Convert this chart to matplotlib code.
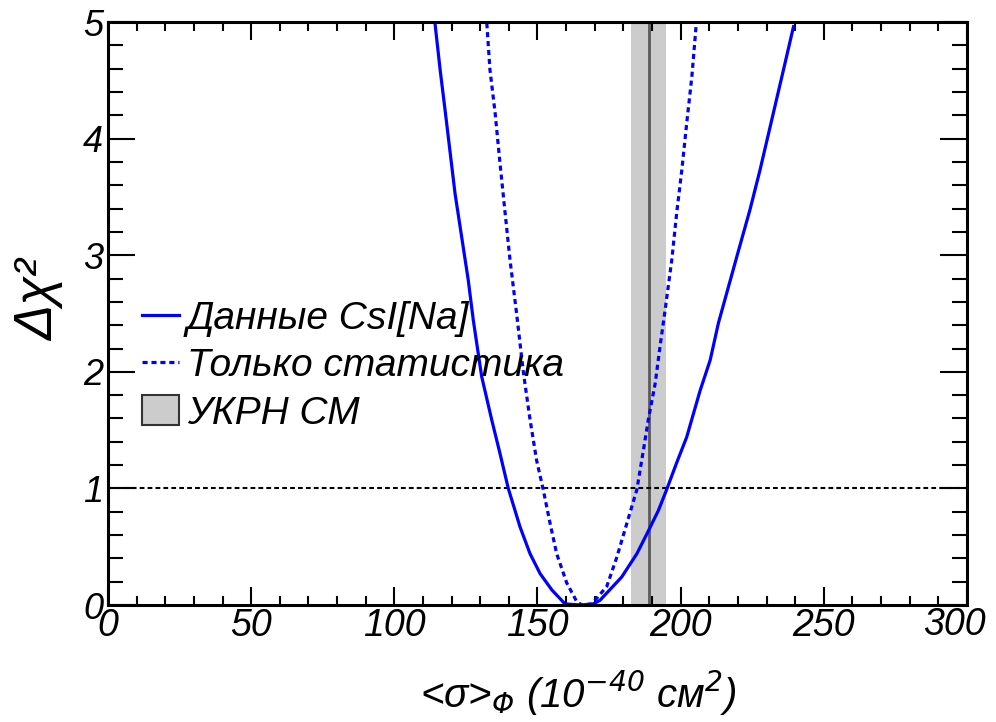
import matplotlib
matplotlib.use("Agg")
import matplotlib.pyplot as plt
from matplotlib import font_manager
from matplotlib.font_manager import FontProperties
from matplotlib.lines import Line2D
from matplotlib.patches import Patch
from matplotlib.ticker import MultipleLocator, FuncFormatter

# Delta chi^2 profile, CsI[Na] data
csi_x = [114.2, 116.0, 117.7, 119.5, 121.2, 123.5, 125.8, 127.6, 130.5, 134.0,
         136.9, 139.8, 143.9, 147.4, 150.9, 155.0, 159.6, 165.0, 169.5, 171.8,
         179.4, 184.7, 188.2, 192.2, 195.1, 198.6, 202.1, 206.8, 210.3, 213.2,
         220.2, 224.2, 227.7, 231.8, 235.9, 239.4]
csi_y = [4.99, 4.59, 4.25, 3.88, 3.53, 3.16, 2.79, 2.44, 1.96, 1.59,
         1.30, 1.00, 0.67, 0.44, 0.27, 0.13, 0.01, 0.00, 0.01, 0.04,
         0.24, 0.44, 0.61, 0.81, 0.99, 1.22, 1.44, 1.84, 2.10, 2.42,
         3.04, 3.39, 3.73, 4.16, 4.59, 4.96]

# statistics only
stat_x = [132.3, 133.4, 135.2, 136.9, 138.7, 140.4, 142.7, 145.1, 147.4, 149.7,
          152.0, 154.4, 156.7, 160.2, 163.7, 165.5, 169.0, 174.2, 177.7, 181.2,
          184.7, 187.0, 188.7, 191.1, 192.8, 194.4, 196.9, 198.6, 200.4, 202.1,
          203.9, 205.4]
stat_y = [4.99, 4.59, 4.22, 3.79, 3.36, 2.96, 2.50, 1.99, 1.59, 1.24,
          0.99, 0.70, 0.44, 0.19, 0.03, 0.00, 0.01, 0.16, 0.41, 0.70,
          0.99, 1.33, 1.59, 1.90, 2.22, 2.50, 2.96, 3.36, 3.73, 4.13,
          4.53, 4.97]

# Standard Model prediction
sm_value = 189.0
sm_low = 182.5
sm_high = 194.8

one_sigma = 1.0
x_min, x_max = 0, 300

labels = ["Данные CsI[Na]", "Только статистика", "УКРН СМ"]

# narrow italic like ROOT axis numbers if there is one, else plain italic
narrow_file = None
for f in font_manager.fontManager.ttflist:
    if f.name == "Liberation Sans Narrow" and f.style == "italic" \
            and f.weight in (400, "normal", "regular"):
        narrow_file = f.fname
        break

if narrow_file:
    xtick_font = FontProperties(fname=narrow_file, size=32)
    xlab_font = FontProperties(fname=narrow_file, size=33)
else:
    xtick_font = FontProperties(family="Liberation Sans", style="italic", size=27)
    xlab_font = FontProperties(family="Liberation Sans", style="italic", size=29)

plt.rcParams["font.family"] = ["Liberation Sans", "DejaVu Sans"]
plt.rcParams["font.style"] = "italic"
plt.rcParams["mathtext.fontset"] = "custom"
for k in ["rm", "it", "sf", "bf"]:
    plt.rcParams["mathtext." + k] = "Liberation Sans:italic"

fig = plt.figure(figsize=(9.96, 7.22), dpi=100)
ax = fig.add_axes([0.1084, 0.162, 0.8625, 0.8075])

ax.axvspan(sm_low, sm_high, color="#cccccc", lw=0, zorder=1)
ax.axvline(sm_value, color="#5a5a5a", lw=2.0, zorder=2)
ax.axhline(one_sigma, color="black", lw=1.5, ls=(0, (2.3, 1.5)), zorder=3)

ax.plot(csi_x, csi_y, color="#0000ff", lw=2.3, zorder=4)
ax.plot(stat_x, stat_y, color="#0000ff", lw=2.3, ls=(0, (1.6, 1.2)), zorder=4)

ax.set_xlim(x_min, x_max)
ax.set_ylim(0, 5)
ax.xaxis.set_major_locator(MultipleLocator(50))
ax.xaxis.set_minor_locator(MultipleLocator(10))
ax.yaxis.set_major_locator(MultipleLocator(1))
ax.yaxis.set_minor_locator(MultipleLocator(0.2))
# the last number is drawn separately, shifted left so it fits the canvas
ax.xaxis.set_major_formatter(FuncFormatter(lambda v, p: "" if v >= x_max else "%d" % v))

ax.tick_params(axis="both", which="both", direction="in", top=True, right=True, width=1.5)
ax.tick_params(axis="x", which="major", length=13, pad=2)
ax.tick_params(axis="x", which="minor", length=6.5)
ax.tick_params(axis="y", which="major", length=19.5, pad=3.5)
ax.tick_params(axis="y", which="minor", length=11)
for s in ax.spines.values():
    s.set_linewidth(2.2)
    s.set_zorder(10)

for t in ax.get_xticklabels():
    t.set_fontproperties(xtick_font)
for t in ax.get_yticklabels():
    t.set_fontsize(26)
    t.set_fontstyle("italic")

ax.annotate("%d" % x_max, xy=(x_max, 0), xycoords="data", xytext=(-9, -1.5),
            textcoords="offset points", ha="center", va="top",
            fontproperties=xtick_font, annotation_clip=False)

fig.text(53 / 996, 1 - 300 / 722, "Δχ²", rotation=90, rotation_mode="anchor",
         ha="center", va="baseline", fontsize=38, style="italic")
fig.text(578 / 996, 1 - 708 / 722, "<σ>$_{Φ}$ (10$^{-40}$ см$^{2}$)",
         ha="center", va="baseline", fontproperties=xlab_font)

handles = [Line2D([], [], color="#0000ff", lw=2.3),
           Line2D([], [], color="#0000ff", lw=2.3, ls=(0, (1.6, 1.2))),
           Patch(facecolor="#cccccc", edgecolor="#333333", lw=1.5)]
leg = ax.legend(handles, labels, loc="upper left", bbox_to_anchor=(0.04, 0.522),
                frameon=False, fontsize=28, handlelength=0.95, handleheight=0.8,
                handletextpad=0.2, labelspacing=0.28, borderpad=0, borderaxespad=0)
for t in leg.get_texts():
    t.set_fontstyle("italic")

fig.savefig("out.png", dpi=100)
